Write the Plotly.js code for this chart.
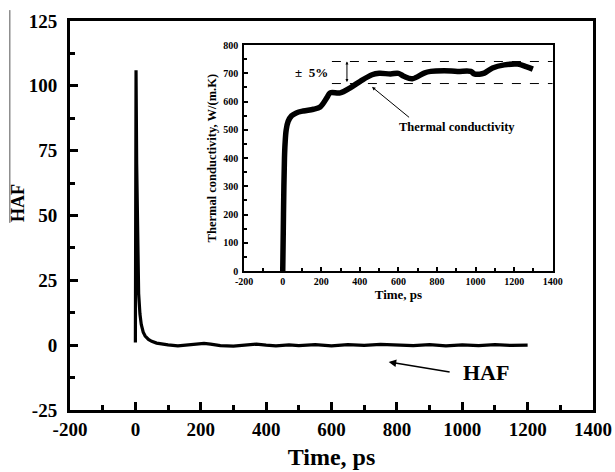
<!DOCTYPE html>
<html>
<head>
<meta charset="utf-8">
<script src="https://cdn.plot.ly/plotly-3.0.1.min.js"></script>
<style>html,body{margin:0;padding:0;background:#fff;}#chart{width:615px;height:472px;}
#chart .xtick text, #chart .ytick text, #chart .x2tick text, #chart .y2tick text { font-weight: bold !important; }</style>
</head>
<body>
<div id="chart"></div>
<script>
// Main panel: heat autocorrelation function (HAF)
const hafTime = [0, 2, 4, 6, 8, 10, 14, 18, 24, 30, 40, 50, 65, 80, 100, 130, 160, 190, 210, 230, 260, 300, 340, 370, 400, 430, 470, 500, 550, 600, 650, 700, 750, 800, 850, 900, 950, 1000, 1050, 1100, 1150, 1200];
const hafValue = [1, 106, 70, 45, 30, 20, 12, 8, 5, 3.5, 2.2, 1.5, 0.8, 0.4, 0.1, -0.3, 0, 0.3, 0.7, 0.4, -0.2, -0.4, 0.1, 0.4, 0, -0.3, 0.1, -0.2, 0.2, -0.3, 0.2, -0.1, 0.3, 0.1, -0.2, 0.2, -0.3, 0.1, -0.2, 0.2, -0.1, 0];

// Inset: thermal conductivity
const kTime = [0, 3, 6, 9, 12, 18, 28, 46, 70, 107, 159, 194, 229, 246, 298, 350, 402, 463, 500, 559, 600, 628, 672, 733, 767, 837, 906, 975, 993, 1020, 1045, 1088, 1149, 1218, 1262, 1297];
const kValue = [0, 150, 300, 400, 450, 500, 530, 550, 560, 567, 573, 581, 614, 631, 631, 649, 672, 695, 700, 698, 700, 690, 681, 701, 707, 709, 707, 707, 698, 697, 701, 719, 730, 733, 724, 715];

const bandUpper = 742;
const bandLower = 664;

const mainXTicks = [-200, 0, 200, 400, 600, 800, 1000, 1200, 1400];
const mainXLabels = ['-200', '0', '200', '400', '600', '800', '1000', '1200', '1400'];
const mainYTicks = [-25, 0, 25, 50, 75, 100, 125];
const mainYLabels = ['-25', '0', '25', '50', '75', '100', '125'];
const insetXTicks = [-200, 0, 200, 400, 600, 800, 1000, 1200, 1400];
const insetXLabels = ['-200', '0', '200', '400', '600', '800', '1000', '1200', '1400'];
const insetYTicks = [0, 100, 200, 300, 400, 500, 600, 700, 800];
const insetYLabels = ['0', '100', '200', '300', '400', '500', '600', '700', '800'];

const serif = "Liberation Serif, Times New Roman, serif";
const b = s => '<b>' + s + '</b>';

const traces = [
  {x: hafTime, y: hafValue, type: 'scatter', mode: 'lines', line: {color: '#000', width: 3.2}, xaxis: 'x', yaxis: 'y', hoverinfo: 'skip'},
  {x: kTime, y: kValue, type: 'scatter', mode: 'lines', line: {color: '#000', width: 5.5, shape: 'spline'}, xaxis: 'x2', yaxis: 'y2', hoverinfo: 'skip'}
];

const layout = {
  width: 615, height: 472,
  margin: {l: 70, r: 22, t: 21, b: 62},
  paper_bgcolor: '#fff', plot_bgcolor: '#fff',
  showlegend: false,
  font: {family: serif, color: '#000'},
  xaxis: {
    domain: [0, 1], range: [-200, 1400], tickmode: 'array', tickvals: mainXTicks, ticktext: mainXLabels,
    ticks: 'inside', ticklen: 8, tickwidth: 3, tickcolor: '#000',
    minor: {dtick: 100, ticks: 'inside', ticklen: 5, tickwidth: 3, tickcolor: '#000'},
    showline: true, linewidth: 3, linecolor: '#000', mirror: true,
    showgrid: false, zeroline: false,
    tickfont: {size: 19, family: serif, weight: 700},
    title: {text: b('Time, ps'), font: {size: 24, family: serif}, standoff: 10}
  },
  yaxis: {
    domain: [0, 1], range: [-25, 125], tickmode: 'array', tickvals: mainYTicks, ticktext: mainYLabels,
    ticks: 'inside', ticklen: 8, tickwidth: 3, tickcolor: '#000',
    minor: {dtick: 12.5, ticks: 'inside', ticklen: 5, tickwidth: 3, tickcolor: '#000'},
    showline: true, linewidth: 3, linecolor: '#000', mirror: true,
    showgrid: false, zeroline: false,
    tickfont: {size: 19, family: serif, weight: 700},
    ticklabelstandoff: 6
  },
  xaxis2: {
    domain: [0.333, 0.923], anchor: 'y2', range: [-200, 1400], tickmode: 'array', tickvals: insetXTicks, ticktext: insetXLabels,
    ticks: 'inside', ticklen: 4, tickwidth: 2, tickcolor: '#000',
    minor: {dtick: 100, ticks: 'inside', ticklen: 3, tickwidth: 2, tickcolor: '#000'},
    showline: true, linewidth: 2, linecolor: '#000', mirror: true,
    showgrid: false, zeroline: false,
    tickfont: {size: 10, family: serif, weight: 700},
    title: {text: b('Time, ps'), font: {size: 13, family: serif}, standoff: 4}
  },
  yaxis2: {
    domain: [0.357, 0.938], anchor: 'x2', range: [0, 800], tickmode: 'array', tickvals: insetYTicks, ticktext: insetYLabels,
    ticks: 'inside', ticklen: 4, tickwidth: 2, tickcolor: '#000',
    minor: {dtick: 50, ticks: 'inside', ticklen: 3, tickwidth: 2, tickcolor: '#000'},
    showline: true, linewidth: 2, linecolor: '#000', mirror: true,
    showgrid: false, zeroline: false,
    tickfont: {size: 10, family: serif, weight: 700},
    ticklabelstandoff: 2,
    title: {text: b('Thermal conductivity, W/(m.K)'), font: {size: 12.5, family: serif}, standoff: 4}
  },
  shapes: [
    {type: 'line', xref: 'x2', yref: 'y2', x0: 255, x1: 1400, y0: bandUpper, y1: bandUpper, line: {color: '#000', width: 1, dash: 'dash'}},
    {type: 'line', xref: 'x2', yref: 'y2', x0: 255, x1: 1400, y0: bandLower, y1: bandLower, line: {color: '#000', width: 1, dash: 'dash'}},
    {type: 'line', xref: 'paper', yref: 'paper', x0: -0.115, x1: -0.115, y0: 0.481, y1: 1.028, line: {color: '#555', width: 1}}
  ],
  annotations: [
    {xref: 'paper', yref: 'paper', x: -0.0996, y: 0.532, text: b('HAF'), textangle: -90, showarrow: false,
     font: {size: 18, family: serif}, xanchor: 'center', yanchor: 'middle'},
    {xref: 'x', yref: 'y', x: 1073, y: -10.4, text: b('HAF'), showarrow: false,
     font: {size: 22, family: serif}},
    {xref: 'x', yref: 'y', x: 775, y: -6.5, ax: 966, ay: -10.4, axref: 'x', ayref: 'y', text: '',
     showarrow: true, arrowhead: 2, arrowsize: 1, arrowwidth: 1.5, arrowcolor: '#000'},
    {xref: 'x2', yref: 'y2', x: 151, y: 703, text: b('±  5%'), showarrow: false,
     font: {size: 13, family: serif}},
    {xref: 'x2', yref: 'y2', x: 333, y: bandUpper, ax: 333, ay: bandLower, axref: 'x2', ayref: 'y2', text: '',
     showarrow: true, arrowhead: 2, arrowside: 'end+start', arrowsize: 0.6, arrowwidth: 1, arrowcolor: '#000'},
    {xref: 'x2', yref: 'y2', x: 463, y: 652, ax: 663, ay: 540, axref: 'x2', ayref: 'y2', text: '',
     showarrow: true, arrowhead: 2, arrowsize: 0.7, arrowwidth: 1, arrowcolor: '#000'},
    {xref: 'x2', yref: 'y2', x: 906, y: 509, text: b('Thermal conductivity'), showarrow: false,
     font: {size: 12.5, family: serif}}
  ]
};

Plotly.newPlot('chart', traces, layout, {staticPlot: true, displayModeBar: false});
</script>
</body>
</html>
